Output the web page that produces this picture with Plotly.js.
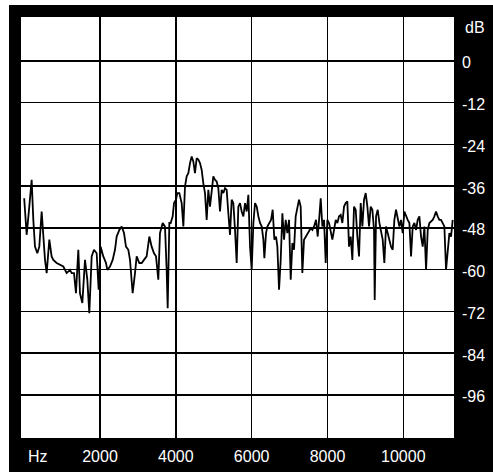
<!DOCTYPE html>
<html>
<head>
<meta charset="utf-8">
<script src="https://cdn.plot.ly/plotly-3.0.1.min.js"></script>
<style>
  html, body { margin: 0; padding: 0; background: #ffffff; }
  #chart { position: absolute; left: 9px; top: 5px; width: 484px; height: 467px; }
</style>
</head>
<body>
<div id="chart"></div>
<script>
const freqHz = [
  0,21,65,135,197,241,285,346,399,461,505,549,593,663,724,768,856,944,1032,1120,
  1208,1252,1314,1366,1428,1472,1534,1604,1665,1718,1780,1841,1912,1964,2017,2087,2158,2193,2263,2334,
  2395,2439,2510,2571,2633,2685,2747,2791,2861,2923,2967,3037,3099,3160,3230,3301,3362,3424,3477,3538,
  3582,3653,3714,3758,3785,3829,3864,3917,3952,4004,4040,4092,4154,4198,4242,4286,4330,4374,4418,4461,
  4505,4549,4593,4637,4681,4725,4769,4813,4857,4901,4945,4989,5033,5077,5121,5165,5209,5253,5297,5341,
  5385,5429,5473,5517,5561,5605,5649,5693,
  5737,5781,5825,5869,5913,5957,6001,6045,6089,6133,6177,6221,6265,6309,6335,6379,6414,6467,6511,6555,
  6599,6643,6678,6722,6766,6810,6854,6898,6942,6986,7030,7074,7117,7161,7205,7249,7293,7337,7381,7425,
  7469,7513,7557,7601,7645,7698,7742,7786,7821,7865,7909,7953,7997,8041,8085,8129,8173,8217,8261,8305,
  8349,8392,8436,8480,8524,8568,8612,8656,8700,8744,8788,8832,8876,8920,8964,9008,9052,9096,9140,9184,
  9228,9245,9281,9325,9369,9413,9456,9500,9544,9588,9632,9676,9720,9764,9808,9852,9896,9940,9984,10028,
  10072,10116,10160,10204,10248,10292,10336,10380,10424,10468,10512,10556,10600,10644,10688,10731,10775,10819,10863,10907,
  10951,10995,11039,11083,11127,11171,11215,11259,11303
];
const levelDb = [
  -39.5,-42.8,-50.0,-41.9,-34.2,-45.7,-53.4,-55.3,-53.4,-43.3,-50.5,-57.2,-61.0,-51.4,-56.2,-57.2,-58.1,-58.6,-59.1,-61.0,
  -60.1,-61.0,-61.0,-66.8,-54.3,-66.8,-69.6,-57.2,-62.9,-72.5,-56.2,-54.3,-55.3,-65.8,-53.4,-56.2,-58.1,-60.1,-59.1,-57.2,
  -54.3,-50.5,-48.6,-47.6,-49.5,-53.4,-54.3,-57.2,-66.8,-61.0,-56.2,-58.1,-58.1,-57.2,-56.2,-50.5,-53.4,-55.3,-56.2,-62.9,
  -49.5,-46.6,-47.6,-60.1,-71.1,-46.6,-46.6,-44.7,-40.9,-39.9,-38.0,-38.0,-40.9,-47.6,-36.1,-33.2,-32.3,-29.4,-27.5,-28.9,
  -32.3,-28.0,-28.4,-29.4,-31.3,-35.2,-38.0,-45.7,-37.1,-41.9,-36.6,-33.2,-34.2,-34.7,-36.6,-43.3,-37.1,-38.0,-36.6,-37.1,
  -43.8,-50.0,-39.9,-40.9,-48.6,-58.1,-41.9,-40.9,
  -43.3,-44.7,-40.9,-43.3,-38.5,-53.4,-60.1,-46.6,-40.9,-41.9,-44.7,-46.6,-47.6,-51.4,-56.7,-49.5,-47.6,-46.6,-45.7,-42.8,
  -51.4,-50.5,-53.4,-65.8,-57.2,-43.8,-51.4,-45.7,-49.5,-45.7,-62.9,-52.4,-54.3,-44.7,-41.9,-39.9,-41.9,-61.0,-51.4,-50.5,
  -49.5,-48.6,-48.1,-48.6,-47.6,-45.7,-50.5,-44.7,-39.5,-47.6,-45.7,-58.1,-45.7,-46.6,-49.5,-51.4,-48.6,-45.7,-46.6,-44.7,
  -44.3,-46.6,-41.9,-40.9,-40.4,-53.4,-50.5,-57.2,-41.9,-42.8,-50.5,-56.2,-40.9,-47.6,-39.9,-38.0,-41.9,-47.6,-41.9,-42.8,
  -48.6,-68.7,-44.7,-42.8,-46.6,-48.6,-51.4,-58.1,-47.6,-49.5,-51.4,-53.4,-54.3,-45.7,-42.8,-45.7,-47.6,-45.7,-49.5,-43.3,
  -44.7,-45.7,-46.6,-56.2,-47.6,-46.6,-48.6,-45.7,-44.7,-50.5,-53.4,-47.6,-60.1,-48.6,-46.6,-46.2,-45.7,-44.7,-43.3,-44.7,
  -45.7,-45.7,-46.6,-47.6,-60.1,-55.3,-49.5,-50.5,-45.7
];
const xTickVals = [2000, 4000, 6000, 8000, 10000];
const xTickText = ["2000", "4000", "6000", "8000", "10000"];
const yTickVals = [0, -12, -24, -36, -48, -60, -72, -84, -96];
const yTickText = ["0", "-12", "-24", "-36", "-48", "-60", "-72", "-84", "-96"];
const xUnit = "Hz";
const yUnit = "dB";

const labelFont = { family: "Liberation Sans, Arial, sans-serif", size: 16, color: "#ffffff" };

const trace = {
  x: freqHz,
  y: levelDb,
  type: "scatter",
  mode: "lines",
  line: { color: "#000000", width: 1.8 },
  hoverinfo: "skip"
};

const layout = {
  width: 484,
  height: 467,
  margin: { l: 12, r: 39, t: 12, b: 34, pad: 0 },
  paper_bgcolor: "#000000",
  plot_bgcolor: "#ffffff",
  showlegend: false,
  xaxis: {
    range: [-84, 11337],
    tickvals: xTickVals,
    ticktext: xTickText,
    showgrid: true,
    gridcolor: "#000000",
    gridwidth: 1.5,
    zeroline: false,
    showline: false,
    ticks: "",
    tickfont: labelFont,
    ticklabelstandoff: 7,
    fixedrange: true
  },
  yaxis: {
    side: "right",
    range: [-108.4, 12.6],
    tickvals: yTickVals,
    ticktext: yTickText,
    showgrid: true,
    gridcolor: "#000000",
    gridwidth: 1.5,
    zeroline: false,
    showline: false,
    ticks: "",
    tickfont: labelFont,
    ticklabelstandoff: 7,
    ticklabelshift: 2,
    fixedrange: true
  },
  annotations: [
    { text: xUnit, xref: "paper", yref: "paper", x: 0.039, y: -0.045,
      xanchor: "center", yanchor: "middle", showarrow: false, font: labelFont },
    { text: yUnit, xref: "paper", yref: "paper", x: 1.0208, y: 0.974,
      xanchor: "left", yanchor: "middle", showarrow: false, font: labelFont }
  ]
};

Plotly.newPlot("chart", [trace], layout, { displayModeBar: false, staticPlot: true });
</script>
</body>
</html>
